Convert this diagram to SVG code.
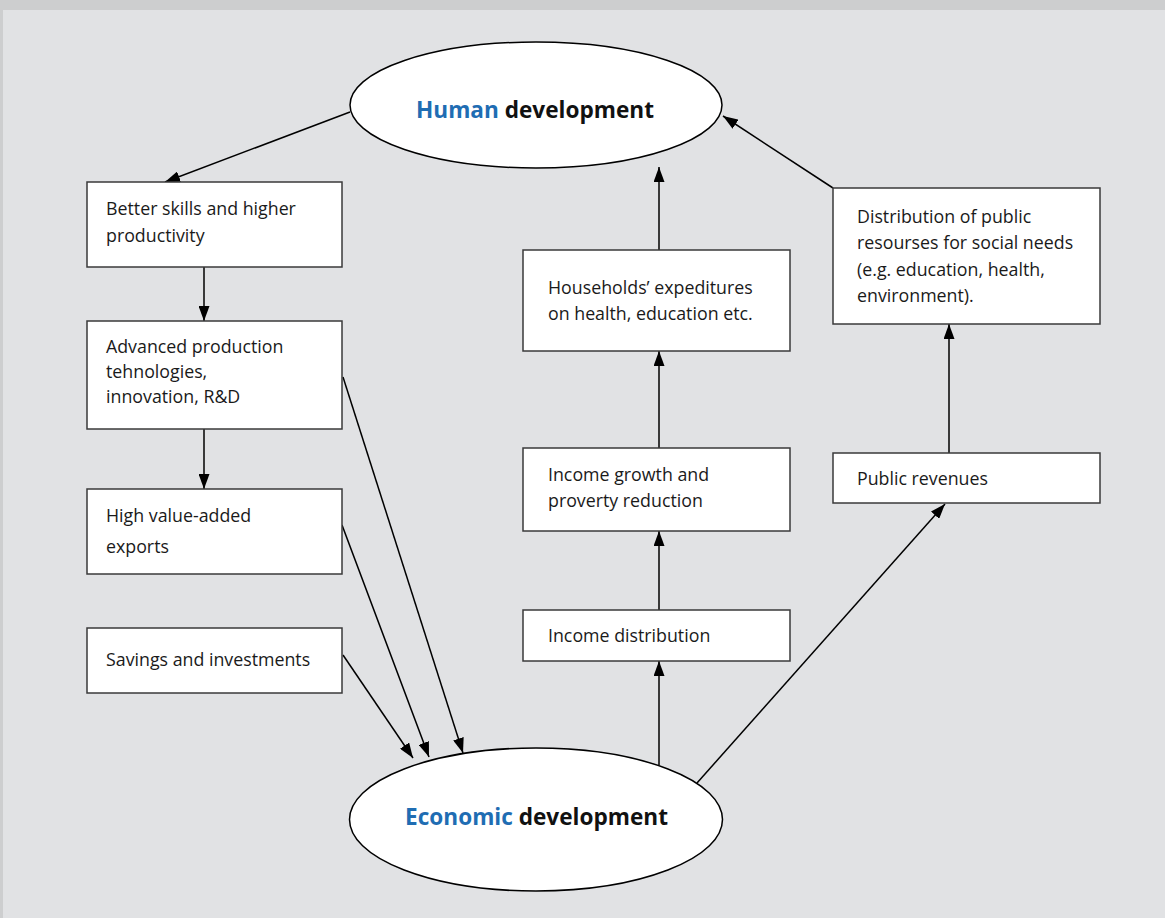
<svg xmlns="http://www.w3.org/2000/svg" width="1165" height="918" viewBox="0 0 1165 918">
<style>
.box{fill:#fff;stroke:#3a3a3a;stroke-width:1.5}
.ell{fill:#fff;stroke:#000;stroke-width:1.5}
.t{font-family:"Open Sans","Noto Sans",sans-serif;font-size:17.8px;fill:#1a1a1a}
.h{font-family:"Open Sans","Noto Sans",sans-serif;font-size:22.6px;font-weight:700;fill:#111}
.b{fill:#1f6db3}
.c{stroke:#000;stroke-width:1.5;fill:none;marker-end:url(#ah)}
</style>
<defs>
<marker id="ah" markerUnits="userSpaceOnUse" markerWidth="15" markerHeight="11" refX="15" refY="5.5" orient="auto">
<path d="M0,0 L15,5.5 L0,11 z" fill="#000"/>
</marker>
</defs>
<rect x="0" y="0" width="1165" height="918" fill="#e1e2e4"/>
<rect x="0" y="0" width="1165" height="10" fill="#cdcecf"/>
<rect x="0" y="0" width="3" height="918" fill="#cdcecf"/>

<g id="connectors">
<line class="c" x1="350" y1="112" x2="165" y2="182"/>
<line class="c" x1="204" y1="267" x2="204" y2="321"/>
<line class="c" x1="204" y1="429" x2="204" y2="489"/>
<line class="c" x1="343" y1="377" x2="463" y2="753"/>
<line class="c" x1="342" y1="525" x2="429" y2="757"/>
<line class="c" x1="343" y1="655" x2="413" y2="758"/>
<line class="c" x1="659" y1="765" x2="659" y2="661"/>
<line class="c" x1="659" y1="610" x2="659" y2="531"/>
<line class="c" x1="659" y1="448" x2="659" y2="351"/>
<line class="c" x1="659" y1="250" x2="659" y2="167"/>
<line class="c" x1="697" y1="783" x2="945" y2="504"/>
<line class="c" x1="949" y1="453" x2="949" y2="324"/>
<line class="c" x1="833" y1="188" x2="723" y2="116"/>
</g>

<g id="human">
<ellipse class="ell" cx="536" cy="105" rx="186" ry="63"/>
<text class="h" x="535" y="118" text-anchor="middle"><tspan class="b">Human</tspan> development</text>
</g>

<g id="economic">
<ellipse class="ell" cx="536" cy="819.5" rx="186.5" ry="71.5"/>
<text class="h" x="536.5" y="825" text-anchor="middle"><tspan class="b">Economic</tspan> development</text>
</g>

<g id="skills">
<rect class="box" x="87" y="182" width="255" height="85"/>
<text class="t" x="106" y="215">Better skills and higher</text>
<text class="t" x="106" y="242">productivity</text>
</g>

<g id="advanced">
<rect class="box" x="87" y="321" width="255" height="108"/>
<text class="t" x="106" y="353">Advanced production</text>
<text class="t" x="106" y="378">tehnologies,</text>
<text class="t" x="106" y="403">innovation, R&amp;D</text>
</g>

<g id="exports">
<rect class="box" x="87" y="489" width="255" height="85"/>
<text class="t" x="106" y="522">High value-added</text>
<text class="t" x="106" y="553">exports</text>
</g>

<g id="savings">
<rect class="box" x="87" y="628" width="255" height="65"/>
<text class="t" x="106" y="666">Savings and investments</text>
</g>

<g id="households">
<rect class="box" x="523" y="250" width="267" height="101"/>
<text class="t" x="548" y="294">Households’ expeditures</text>
<text class="t" x="548" y="320">on health, education etc.</text>
</g>

<g id="income-growth">
<rect class="box" x="523" y="448" width="267" height="83"/>
<text class="t" x="548" y="481">Income growth and</text>
<text class="t" x="548" y="507">proverty reduction</text>
</g>

<g id="income-distribution">
<rect class="box" x="523" y="610" width="267" height="51"/>
<text class="t" x="548" y="642">Income distribution</text>
</g>

<g id="public-distribution">
<rect class="box" x="833" y="188" width="267" height="136"/>
<text class="t" x="857" y="223">Distribution of public</text>
<text class="t" x="857" y="249">resourses for social needs</text>
<text class="t" x="857" y="276">(e.g. education, health,</text>
<text class="t" x="857" y="302">environment).</text>
</g>

<g id="public-revenues">
<rect class="box" x="833" y="453" width="267" height="50"/>
<text class="t" x="857" y="485">Public revenues</text>
</g>
</svg>
